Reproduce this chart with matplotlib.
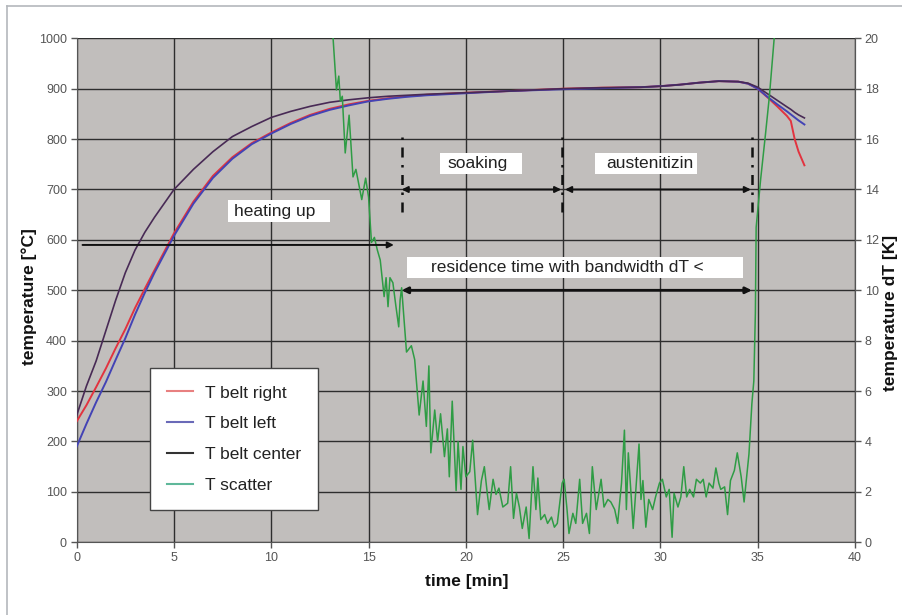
import matplotlib
matplotlib.use("Agg")
import matplotlib.pyplot as plt
from matplotlib.lines import Line2D
from matplotlib.patches import Rectangle

plt.rcParams['font.family'] = ['Liberation Sans', 'DejaVu Sans']

# ---------------- data ----------------
t_belt = [0, 0.5, 1, 1.5, 2, 2.5, 3, 3.5, 4, 5, 6, 7, 8, 9, 10, 11, 12, 13, 14, 15,
          16, 17, 18, 20, 22, 25, 27, 29, 30, 31, 32, 33, 34, 34.5, 35, 35.5, 36,
          36.5, 36.7, 36.9, 37.1, 37.4]
T_right = [240, 272, 308, 345, 385, 423, 465, 503, 540, 613, 676, 727, 764, 792, 813,
           832, 848, 860, 869, 876, 881, 885, 888, 892, 895, 900, 902, 903, 905, 908,
           912, 915, 914, 910, 900, 883, 865, 846, 836, 800, 775, 748]
T_left = [190, 235, 278, 318, 362, 405, 452, 495, 535, 608, 672, 723, 761, 790, 811,
          830, 846, 858, 867, 875, 880, 884, 887, 891, 895, 899, 901, 903, 905, 908,
          912, 915, 914, 910, 900, 884, 869, 855, 849, 843, 837, 829]
T_center = [252, 310, 360, 420, 480, 535, 580, 615, 645, 700, 740, 775, 805, 825, 843,
            855, 865, 873, 878, 882, 885, 887, 889, 892, 895, 900, 902, 903, 905, 908,
            912, 915, 914, 911, 903, 890, 877, 864, 859, 853, 848, 842]

t_scatter = [13.05, 13.35, 13.47, 13.55, 13.65, 13.8, 14.0, 14.2, 14.35, 14.5, 14.65,
             14.85, 15.0, 15.15, 15.3, 15.45, 15.6, 15.8, 15.9, 16.0, 16.1, 16.25,
             16.4, 16.55, 16.62, 16.7, 16.95, 17.2, 17.37, 17.6, 17.8, 17.97, 18.1,
             18.2, 18.4, 18.55, 18.7, 18.9, 19.05, 19.15, 19.3, 19.5, 19.6, 19.75,
             19.85, 20.0, 20.2, 20.35, 20.6, 20.8, 20.95, 21.1, 21.2, 21.4, 21.55,
             21.7, 21.9, 22.15, 22.3, 22.45, 22.6, 22.75, 22.9, 23.1, 23.25, 23.45,
             23.6, 23.7, 23.85, 24.05, 24.2, 24.4, 24.55, 24.7, 24.95, 25.05, 25.2,
             25.3, 25.5, 25.65, 25.85, 26.0, 26.2, 26.35, 26.5, 26.7, 26.95, 27.1,
             27.3, 27.45, 27.65, 27.8, 28.0, 28.15, 28.25, 28.35, 28.5, 28.6, 28.75,
             28.9, 29.0, 29.1, 29.25, 29.4, 29.6, 29.75, 29.95, 30.1, 30.3, 30.45,
             30.6, 30.7, 30.9, 31.05, 31.2, 31.35, 31.5, 31.7, 31.85, 32.05, 32.2,
             32.35, 32.5, 32.7, 32.85, 33.0, 33.1, 33.3, 33.45, 33.6, 33.8, 33.95,
             34.15, 34.3, 34.55, 34.7, 34.8, 34.88, 34.92, 35.15, 35.4, 35.6, 35.9]
dT_scatter = [21.5, 17.95, 18.5, 17.5, 17.7, 15.45, 16.95, 14.5, 14.8, 14.2, 13.6,
              14.45, 13.7, 11.9, 12.1, 11.6, 11.2, 9.75, 10.5, 9.35, 10.5, 10.3,
              9.4, 8.55, 9.6, 10.1, 7.55, 7.8, 7.25, 5.05, 6.4, 4.6, 7.0,
              3.55, 5.25, 4.0, 5.1, 3.4, 4.5, 2.6, 5.6, 2.05, 4.0, 2.1,
              3.8, 2.6, 2.8, 4.05, 1.1, 2.45, 3.0, 1.95, 1.3, 2.5, 1.9,
              2.15, 1.4, 1.55, 3.0, 0.95, 1.95, 1.4, 0.55, 1.4, 0.15, 3.0,
              1.3, 2.55, 0.9, 1.1, 0.75, 1.0, 0.6, 0.75, 2.35, 2.5, 1.3,
              0.35, 1.15, 0.75, 2.5, 0.75, 1.15, 0.35, 3.0, 1.3, 2.5, 1.4,
              1.7, 1.6, 1.3, 0.75, 2.35, 4.45, 1.3, 3.55, 1.8, 0.55, 2.2,
              3.9, 1.7, 2.45, 0.6, 1.7, 1.3, 1.8, 2.35, 2.5, 1.8, 2.1,
              0.2, 1.95, 1.4, 1.8, 3.0, 1.8, 2.1, 1.8, 2.5, 2.35, 2.5,
              1.8, 2.35, 2.15, 2.95, 2.35, 2.1, 2.2, 1.1, 2.45, 2.85, 3.55,
              2.6, 1.6, 3.5, 5.5, 6.4, 9.1, 12.5, 14.4, 16.2, 17.7, 20.5]

series_labels = ['T belt right', 'T belt left', 'T belt center', 'T scatter']
x_ticks = [0, 5, 10, 15, 20, 25, 30, 35, 40]
y_ticks = [0, 100, 200, 300, 400, 500, 600, 700, 800, 900, 1000]
y2_ticks = [0, 2, 4, 6, 8, 10, 12, 14, 16, 18, 20]

# annotation labels: (text, text x, text y, box x0, box x1, box y0, box y1) in data units
phase_labels = [
    ('heating up', 10.2, 657, 7.78, 13.02, 636, 679),
    ('soaking', 20.6, 752, 18.67, 22.87, 730, 773),
    ('austenitizin', 29.46, 752, 26.64, 31.88, 730, 773),
    ('residence time with bandwidth dT <', 25.2, 545, 16.98, 34.24, 524, 566),
]

# ---------------- figure ----------------
W, H = 903, 615
fig = plt.figure(figsize=(W / 100, H / 100), dpi=100)
fig.patch.set_facecolor('white')
fig.add_artist(Line2D([7 / W, 7 / W], [0, 1 - 6 / H], color='#b4b8bc', lw=1.2))
fig.add_artist(Line2D([7 / W, 1], [1 - 6 / H, 1 - 6 / H], color='#b4b8bc', lw=1.2))

ax = fig.add_axes([76.7 / W, 1 - 542.3 / H, (855 - 76.7) / W, (542.3 - 38.3) / H])
ax.set_facecolor('#c1bebc')
ax.set_xlim(0, 40)
ax.set_ylim(0, 1000)
ax.set_xticks(x_ticks)
ax.set_yticks(y_ticks)
ax.grid(True, color='#2e2e2e', lw=1.0)
ax.set_axisbelow(True)
for s in ax.spines.values():
    s.set_color('#555555')
ax.spines['top'].set_visible(False)
ax.tick_params(axis='both', labelsize=9, colors='#555555', length=4, width=1,
               direction='out', pad=3)

ax2 = ax.twinx()
ax2.set_ylim(0, 20)
ax2.set_yticks(y2_ticks)
ax2.tick_params(axis='y', labelsize=9, colors='#555555', length=4, width=1,
                direction='out', pad=3)
for s in ax2.spines.values():
    s.set_visible(False)
ax2.spines['right'].set_visible(True)
ax2.spines['right'].set_color('#555555')

l_right, = ax.plot(t_belt, T_right, color='#e2333f', lw=1.4, zorder=3)
l_left, = ax.plot(t_belt, T_left, color='#4343b5', lw=1.4, zorder=3)
l_center, = ax.plot(t_belt, T_center, color='#482a55', lw=1.2, zorder=4)
l_scatter, = ax2.plot(t_scatter, dT_scatter, color='#2f9c45', lw=1.1, zorder=2)

ax.set_ylabel('temperature [°C]', fontsize=12.5, fontweight='bold', color='#111111')
ax.yaxis.set_label_coords((37 - 76.7) / 778.3, 0.487)
ax2.set_ylabel('temperature dT [K]', fontsize=12.5, fontweight='bold', color='#111111')
ax2.yaxis.set_label_coords((883 - 76.7) / 778.3, 0.455)
ax.set_xlabel('time [min]', fontsize=12.5, fontweight='bold', color='#111111')
ax.xaxis.set_label_coords((466.5 - 76.7) / 778.3, -(574 - 542.3) / 504)

# ---------------- annotations ----------------
tr = ax.transData
for text, tx, ty, bx0, bx1, by0, by1 in phase_labels:
    ax2.add_patch(Rectangle((bx0, by0), bx1 - bx0, by1 - by0, transform=tr,
                            facecolor='white', edgecolor='none', zorder=5))
    ax2.text(tx, ty, text, transform=tr, fontsize=12.5, ha='center', va='center',
             color='#222222', zorder=6)

arrow_kw = dict(color='#111111', lw=1.4, shrinkA=0, shrinkB=0, mutation_scale=9)
ax2.annotate('', xy=(16.3, 590), xytext=(0.3, 590), xycoords=tr, textcoords=tr,
             arrowprops=dict(arrowstyle='-|>', **arrow_kw), zorder=7)
ax2.annotate('', xy=(24.9, 700), xytext=(16.7, 700), xycoords=tr, textcoords=tr,
             arrowprops=dict(arrowstyle='<|-|>', **arrow_kw), zorder=7)
ax2.annotate('', xy=(34.65, 700), xytext=(25.1, 700), xycoords=tr, textcoords=tr,
             arrowprops=dict(arrowstyle='<|-|>', **arrow_kw), zorder=7)
ax2.annotate('', xy=(34.7, 500), xytext=(16.7, 500), xycoords=tr, textcoords=tr,
             arrowprops=dict(arrowstyle='<|-|>', color='#111111', lw=2.0, shrinkA=0,
                             shrinkB=0, mutation_scale=9), zorder=7)
for xv in [16.7, 24.95, 34.7]:
    ax2.plot([xv, xv], [655, 818], transform=tr, color='#111111', lw=1.8,
             linestyle=(0, (4, 3, 1, 3)), zorder=7)

leg = ax2.legend([l_right, l_left, l_center, l_scatter], series_labels,
                 loc='upper left', bbox_to_anchor=(150 / W, 1 - 368 / H),
                 bbox_transform=fig.transFigure, fontsize=12.5, frameon=True,
                 fancybox=False, framealpha=1, edgecolor='#444444',
                 handlelength=1.45, handletextpad=0.7, labelspacing=0.9,
                 borderpad=1.0, borderaxespad=0)
leg.get_frame().set_linewidth(1.0)
for txt in leg.get_texts():
    txt.set_color('#222222')
for h, c in zip(leg.get_lines(), ['#e88080', '#6a6ab8', '#333333', '#5fb89a']):
    h.set_color(c)
    h.set_linewidth(1.5)
leg.set_zorder(10)

fig.savefig('out.png', dpi=100, facecolor='white')
